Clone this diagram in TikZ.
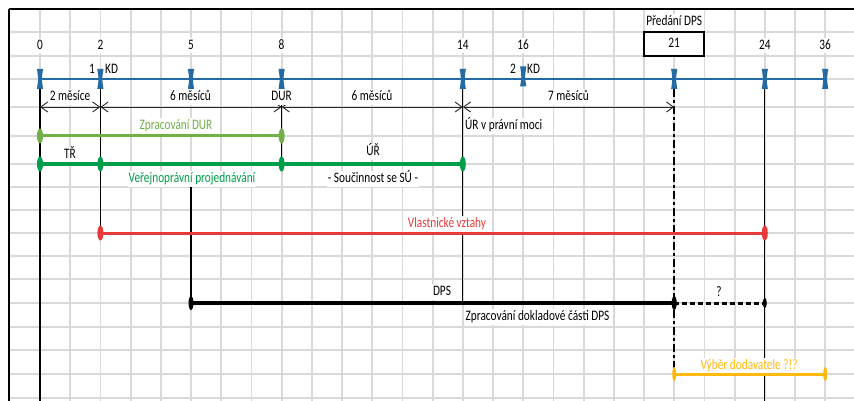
\documentclass[tikz,border=0pt]{standalone}
\usepackage{fontspec}
\setmainfont{Carlito}[FakeStretch=0.78]
\usetikzlibrary{arrows.meta,shapes.geometric}

\definecolor{gridgrey}{RGB}{217,217,217}
\definecolor{axisblue}{RGB}{36,106,164}
\definecolor{durgreen}{RGB}{112,176,70}
\definecolor{urgreen}{RGB}{0,158,74}
\definecolor{ownred}{RGB}{232,58,58}
\definecolor{supplyellow}{RGB}{255,185,15}
\definecolor{dimgrey}{RGB}{40,40,40}

\tikzset{
  gridline/.style={gridgrey, line width=1.8pt},
  frameline/.style={black, line width=1.5pt},
  lbl/.style={fill=white, inner sep=1pt, text height=10.5pt, text depth=3pt},
  guide/.style={black, line width=1pt},
  guidethick/.style={black, line width=2pt},
  milestone/.style={black, line width=2.2pt, dash pattern=on 8pt off 3pt on 3pt off 3pt},
  dimline/.style={dimgrey, line width=0.9pt, {Straight Barb[length=7pt,width=10pt]}-{Straight Barb[length=7pt,width=10pt]}},
  bar/.style={line width=3pt},
  dot/.style={ellipse, fill, draw=none, inner sep=0pt, minimum width=6pt, minimum height=15pt},
  smalldot/.style={ellipse, fill, draw=none, inner sep=0pt, minimum width=4pt, minimum height=10pt},
  bowtie/.pic={\fill[axisblue] (-3.1,10) -- (3.1,10) .. controls (1.5,0) .. (3.1,-10)
                -- (-3.1,-10) .. controls (-1.5,0) .. (-3.1,10) -- cycle;}
}

\begin{document}
\begin{tikzpicture}[x=1pt, y=-1pt, font=\fontsize{14.5}{16}\selectfont]
\useasboundingbox (0,0) rectangle (854,401);
\fill[white] (0,0) rectangle (854,401);

% spreadsheet grid
\foreach \k in {0,...,26}
  \draw[gridline] ({40+30.2*\k},9) -- ({40+30.2*\k},401);
\foreach \r in {32,56,79,107,136,164,187,210,233,256,279,303,327,350,374,398}
  \draw[gridline] (9,\r) -- (854,\r);
\draw[frameline] (9,9) -- (854,9);
\draw[frameline] (9,9) -- (9,401);

% month positions on the axis
\coordinate (a0)  at (40,79);
\coordinate (a2)  at (100.4,79);
\coordinate (a5)  at (191,79);
\coordinate (a8)  at (281.6,79);
\coordinate (a14) at (462.8,79);
\coordinate (a16) at (523.2,76.5);
\coordinate (a21) at (674.2,79);
\coordinate (a24) at (764.8,79);
\coordinate (a36) at (825.2,79);

% vertical guide lines
\coordinate (v0t)  at (40,89);    \coordinate (v0b)  at (40,401);
\coordinate (v2t)  at (100.4,89); \coordinate (v2b)  at (100.4,233);
\coordinate (v8t)  at (281.6,89); \coordinate (v8b)  at (281.6,171);
\coordinate (v5t)  at (191,187);  \coordinate (v5b)  at (191,303);
\coordinate (v14t) at (462.8,89); \coordinate (v14b) at (462.8,303);
\coordinate (v21t) at (674.2,89); \coordinate (v21b) at (674.2,374);
\coordinate (v24t) at (764.8,89); \coordinate (v24b) at (764.8,401);
\draw[guidethick] (v0t) -- (v0b);
\draw[guide] (v2t) -- (v2b);
\draw[guide] (v8t) -- (v8b);
\draw[guidethick] (v5t) -- (v5b);
\draw[guide] (v14t) -- (v14b);
\draw[milestone] (v21t) -- (v21b);
\draw[guide] (v24t) -- (v24b);

% month numbers
\node[lbl] (pd) at (674.2,22) {Předání DPS};
\node[lbl] (n0)  at (40,45.5) {0};
\node[lbl] (n2)  at (100.4,45.5) {2};
\node[lbl] (n5)  at (191,45.5) {5};
\node[lbl] (n8)  at (281.6,45.5) {8};
\node[lbl] (n14) at (462.8,45.5) {14};
\node[lbl] (n16) at (523.2,45.5) {16};
\node[draw, line width=2pt, fill=white, minimum width=60.4pt, minimum height=24pt,
      inner sep=0pt, text height=10.5pt, text depth=3pt] (n21) at (674.2,44) {21};
\node[lbl] (n24) at (764.8,45.5) {24};
\node[lbl] (n36) at (825.2,45.5) {36};

% control days
\node[lbl, anchor=east] (kd1n) at (96,70) {1};
\node[lbl, anchor=west] (kd1)  at (104,70) {KD};
\node[lbl, anchor=east] (kd2n) at (517,70) {2};
\node[lbl, anchor=west] (kd2)  at (526,70) {KD};

% durations
\coordinate (d0)  at (40,107);
\coordinate (d2)  at (100.4,107);
\coordinate (d8)  at (281.6,107);
\coordinate (d14) at (462.8,107);
\coordinate (d21) at (674.2,107);
\draw[dimline] (d0) -- (d2);
\draw[dimline] (d2) -- (d8);
\draw[dimline] (d8) -- (d14);
\draw[dimline] (d14) -- (d21);
\node[lbl] (m1) at (70,97) {2 měsíce};
\node[lbl] (m2) at (190.5,97) {6 měsíců};
\node[lbl] (dur) at (281.6,97) {DUR};
\node[lbl] (m3) at (372,97) {6 měsíců};
\node[lbl] (m4) at (568.5,97) {7 měsíců};
\node[lbl, anchor=west] (urpm) at (464,126) {ÚR v právní moci};

% task labels
\node[lbl, text=durgreen] (tdur) at (176,126) {Zpracování DUR};
\node[lbl] (ttr) at (70,155) {TŘ};
\node[lbl] (tur) at (373,152) {ÚŘ};
\node[lbl, text=urgreen] (tvp) at (192,179) {Veřejnoprávní projednávání};
\node[lbl] (tsu) at (373,179) {- Součinnost se SÚ -};
\node[lbl, text=ownred] (tvv) at (447,224) {Vlastnické vztahy};
\node[lbl] (tdps) at (442,292) {DPS};
\node[lbl] (tzd) at (537.5,317) {Zpracování dokladové části DPS};
\node[lbl] (tq) at (719,293) {?};
\node[lbl, text=supplyellow] (tvd) at (749,366) {Výběr dodavatele ?!?};

% time axis
\draw[axisblue, line width=2.5pt] (a0) -- (a36);
\foreach \m in {a0,a2,a5,a8,a14,a16,a21,a24,a36}
  \pic at (\m) {bowtie};

% task bars
\coordinate (g0) at (40,136);  \coordinate (g8) at (281.6,136);
\draw[bar, durgreen] (g0) -- (g8);
\node[dot, durgreen] at (g0) {};
\node[dot, durgreen] at (g8) {};

\coordinate (u0) at (40,164);   \coordinate (u2) at (100.4,164);
\coordinate (u8) at (281.6,164); \coordinate (u14) at (462.8,164);
\draw[bar, urgreen] (u0) -- (u2) -- (u8) -- (u14);
\foreach \p in {u0,u2,u8,u14} \node[dot, urgreen] at (\p) {};

\coordinate (r2) at (100.4,233); \coordinate (r24) at (764.8,233);
\draw[bar, ownred] (r2) -- (r24);
\node[dot, ownred] at (r2) {};
\node[dot, ownred] at (r24) {};

\coordinate (p5) at (191,303); \coordinate (p21) at (674.2,303); \coordinate (p24) at (764.8,303);
\draw[black, line width=4pt] (p5) -- (p21);
\draw[black, line width=3pt, dash pattern=on 5pt off 3pt] (p21) -- (p24);
\node[dot, black, minimum width=5pt, minimum height=14pt] at (p5) {};
\node[dot, black, minimum width=5pt, minimum height=14pt] at (p21) {};
\node[smalldot, black] at (p24) {};

\coordinate (y21) at (674.2,374); \coordinate (y36) at (825.2,374);
\draw[bar, supplyellow] (y21) -- (y36);
\node[dot, supplyellow, minimum width=4pt, minimum height=14pt] at (y21) {};
\node[dot, supplyellow, minimum width=4pt, minimum height=14pt] at (y36) {};
\end{tikzpicture}
\end{document}
